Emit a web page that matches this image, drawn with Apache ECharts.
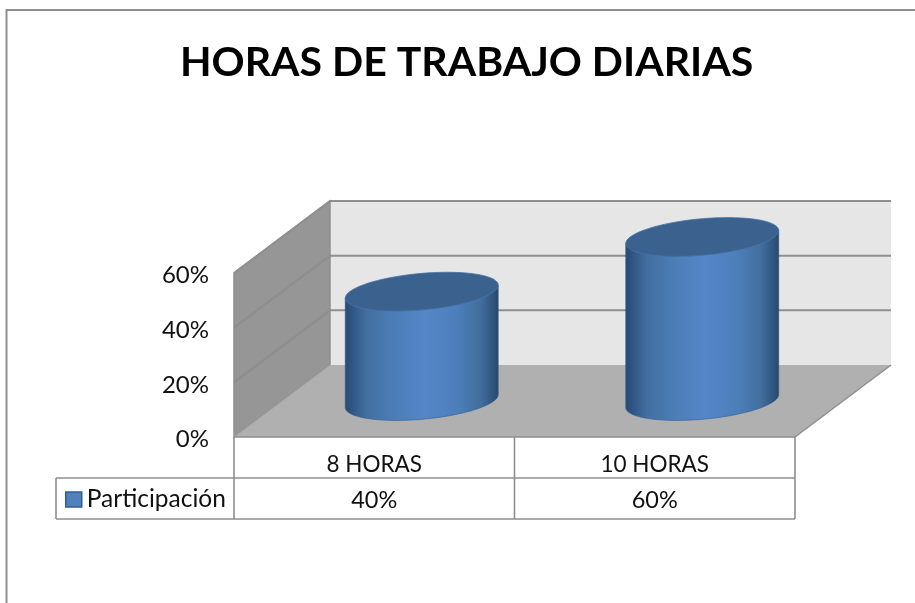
<!DOCTYPE html>
<html><head><meta charset="utf-8">
<style>html,body{margin:0;padding:0;background:#fff}#c{width:915px;height:603px}</style>
<script src="https://cdn.jsdelivr.net/npm/echarts@6/dist/echarts.min.js"></script>
</head><body><div id="c"></div>
<script>
const titleText = 'HORAS DE TRABAJO DIARIAS';
const seriesName = 'Participación';
const categories = ['8 HORAS', '10 HORAS'];
const values = [40, 60];
const yTicks = [0, 20, 40, 60];

const FONT = 'Lato';
const LINE = '#8e8e8e';
const DX = 96, DY = -72;           // floor depth in pixels
const chart = echarts.init(document.getElementById('c'), null, {renderer: 'canvas'});

function wallsItem(params, api) {
  const v = api.value(1);
  const a = api.coord([0, v]);
  const bw = api.size([1, 0])[0];
  const x0 = a[0] - bw / 2, x1 = x0 + bw * categories.length;
  const y0 = api.coord([0, yTicks[0]])[1], yT = api.coord([0, yTicks[yTicks.length - 1]])[1];
  const y = a[1];
  const children = [];
  if (params.dataIndex === 0) {
    children.push(
      {type: 'polygon', shape: {points: [[x0 + DX, yT + DY], [x1 + DX, yT + DY], [x1 + DX, y0 + DY], [x0 + DX, y0 + DY]]}, style: {fill: '#e6e6e6'}},
      {type: 'polygon', shape: {points: [[x0, yT], [x0 + DX, yT + DY], [x0 + DX, y0 + DY], [x0, y0]]}, style: {fill: '#969696', stroke: LINE, lineWidth: 1.5}},
      {type: 'polygon', shape: {points: [[x0, y0], [x0 + DX, y0 + DY], [x1 + DX, y0 + DY], [x1, y0]]}, style: {fill: '#b0b0b0'}},
      {type: 'polyline', shape: {points: [[x0, y0], [x0 + DX, y0 + DY]]}, style: {fill: 'none', stroke: '#a0a0a0', lineWidth: 1}},
      {type: 'polyline', shape: {points: [[x1, y0], [x1 + DX, y0 + DY]]}, style: {fill: 'none', stroke: LINE, lineWidth: 1.5}}
    );
  } else {
    children.push({type: 'polyline', shape: {points: [[x0, y], [x0 + DX, y + DY], [x1 + DX, y + DY]]}, style: {fill: 'none', stroke: LINE, lineWidth: 2}});
  }
  return {type: 'group', children};
}

function ellipsePts(c, u, v, t0, t1, n) {
  const out = [];
  for (let i = 0; i <= n; i++) {
    const t = t0 + (t1 - t0) * i / n;
    out.push([c[0] + u[0] * Math.cos(t) + v[0] * Math.sin(t), c[1] + u[1] * Math.cos(t) + v[1] * Math.sin(t)]);
  }
  return out;
}

function cylinderItem(params, api) {
  const cat = api.value(0), val = api.value(1);
  const base = api.coord([cat, 0]), top = api.coord([cat, val]);
  const off = [DX / 2 - 0.5, DY / 2];
  const cb = [base[0] + off[0], base[1] + off[1]];
  const ct = [top[0] + off[0], top[1] + off[1]];
  const rx = api.size([1, 0])[0] * 0.2727;
  const u = [rx, -6.5], v = [0, 18.3];
  const body = [[ct[0] + u[0], ct[1] + u[1]]]
    .concat(ellipsePts(cb, u, v, 0, Math.PI, 48))
    .concat([[ct[0] - u[0], ct[1] - u[1]]]);
  const grad = new echarts.graphic.LinearGradient(0, 0, 1, 0, [
    {offset: 0, color: '#274a70'},
    {offset: 0.05, color: '#2f5786'},
    {offset: 0.14, color: '#426f9f'},
    {offset: 0.3, color: '#4b7cb4'},
    {offset: 0.52, color: '#5587c9'},
    {offset: 0.72, color: '#4d7fbb'},
    {offset: 0.88, color: '#426f9f'},
    {offset: 0.96, color: '#305680'},
    {offset: 1, color: '#274768'}
  ]);
  return {type: 'group', children: [
    {type: 'polygon', shape: {points: body}, style: {fill: grad, stroke: '#2c5a8e', lineWidth: 0.6}},
    {type: 'polygon', shape: {points: ellipsePts(ct, u, v, 0, 2 * Math.PI, 72)}, style: {fill: '#3b628f', stroke: '#4672a6', lineWidth: 0.8}}
  ]};
}

function tableItem(params, api) {
  const cat = api.value(0);
  const p = api.coord([cat, 0]);
  const bw = api.size([1, 0])[0];
  const y0 = p[1], y1 = y0 + 41, y2 = y0 + 82;
  const x0 = p[0] - bw / 2 - bw * cat, x1 = p[0] + bw / 2;
  const st = {fill: 'none', stroke: LINE, lineWidth: 1.6};
  const children = [
    {type: 'line', shape: {x1: x1, y1: y0, x2: x1, y2: y2}, style: st},
    {type: 'text', style: {text: api.value(1) + '%', x: p[0], y: (y1 + y2) / 2 + 2, align: 'center', verticalAlign: 'middle', font: '23.5px ' + FONT, fill: '#111'}}
  ];
  if (cat === 0) {
    const right = x0 + bw * categories.length, lx = x0 - 178;
    children.push(
      {type: 'line', shape: {x1: x0, y1: y0, x2: right, y2: y0}, style: st},
      {type: 'line', shape: {x1: lx, y1: y1, x2: right, y2: y1}, style: st},
      {type: 'line', shape: {x1: lx, y1: y2, x2: right, y2: y2}, style: st},
      {type: 'line', shape: {x1: lx, y1: y1, x2: lx, y2: y2}, style: st},
      {type: 'line', shape: {x1: x0, y1: y0, x2: x0, y2: y2}, style: st}
    );
  }
  return {type: 'group', children};
}

chart.setOption({
  animation: false,
  backgroundColor: '#fff',
  title: {text: titleText, left: 175, top: 37, textStyle: {fontFamily: FONT, fontWeight: 'bold', fontSize: 41, color: '#000'}},
  grid: {left: 234, right: 120, top: 273, bottom: 166},
  legend: {
    data: [{name: seriesName, icon: 'rect', itemStyle: {color: '#4f81bd', borderColor: '#2f5f96', borderWidth: 1.5}}],
    left: 65, top: 487, itemWidth: 16, itemHeight: 15, itemGap: 0, padding: 0, selectedMode: false,
    textStyle: {fontFamily: FONT, fontSize: 24.5, color: '#111', padding: [2, 0, 0, 0]}
  },
  xAxis: {
    type: 'category', data: categories,
    axisLine: {show: false}, axisTick: {show: false},
    axisLabel: {fontFamily: FONT, fontSize: 22.5, color: '#111', margin: 16}
  },
  yAxis: {
    type: 'value', min: 0, max: 60, interval: 20,
    axisLine: {show: false}, axisTick: {show: false}, splitLine: {show: false},
    axisLabel: {formatter: '{value}%', fontFamily: FONT, fontSize: 24, color: '#111', margin: 25, verticalAlign: 'top', lineHeight: 5}
  },
  graphic: [
    {type: 'polyline', silent: true, shape: {points: [[6.5, 603], [6.5, 10], [915, 10]]}, style: {fill: 'none', stroke: '#8e8e8e', lineWidth: 2}}
  ],
  series: [
    {type: 'custom', name: 'walls', silent: true, z: 1, renderItem: wallsItem,
     data: yTicks.map(t => [0, t]), encode: {x: 0, y: 1}},
    {type: 'custom', name: seriesName, silent: true, z: 3, renderItem: cylinderItem,
     data: values.map((v, i) => [i, v]), encode: {x: 0, y: 1}},
    {type: 'custom', name: 'table', silent: true, z: 2, renderItem: tableItem,
     data: values.map((v, i) => [i, v]), encode: {x: 0, y: 1}}
  ]
});
</script></body></html>
